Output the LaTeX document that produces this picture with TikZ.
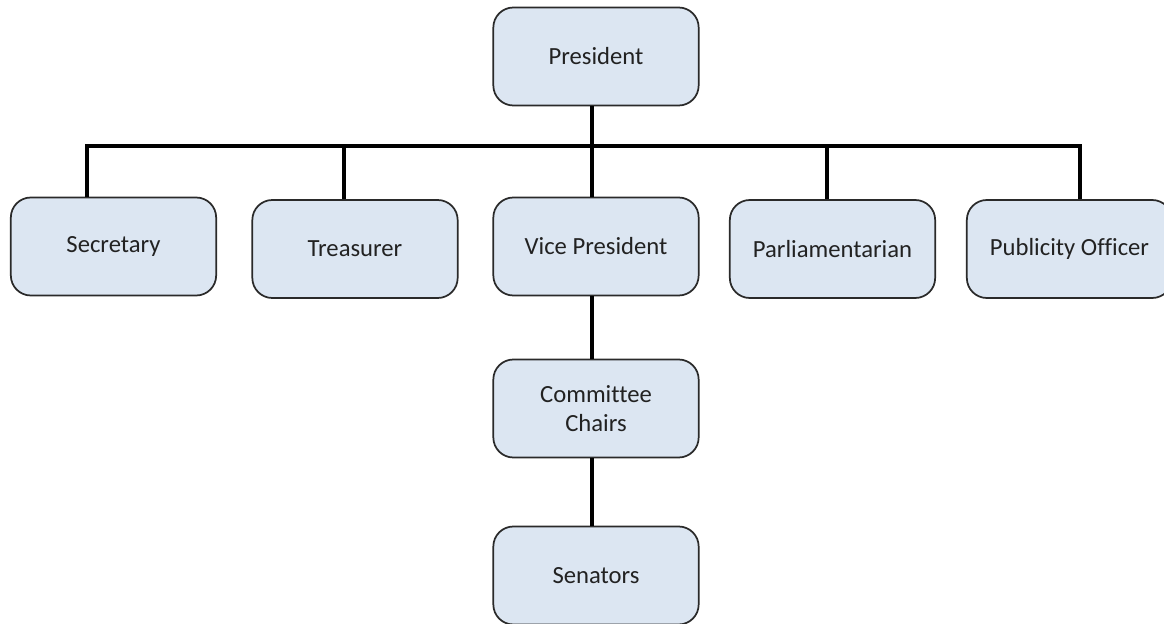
\documentclass[tikz,border=0pt]{standalone}
\usepackage{fontspec}
\setmainfont{Carlito}[Ligatures=CommonOff]
\definecolor{boxfill}{HTML}{DCE6F2}
\definecolor{boxline}{HTML}{2A2A2A}
\definecolor{txt}{HTML}{222222}
\begin{document}
\begin{tikzpicture}[x=0.75pt,y=-0.75pt,
  orgbox/.style={draw=boxline,fill=boxfill,line width=1.3pt,rounded corners=15pt,
    minimum width=154pt,minimum height=73.5pt,align=center,text=txt,
    font=\fontsize{18.5}{22}\selectfont,inner sep=2pt},
  conn/.style={draw=black,line width=2.4pt}]
\useasboundingbox (0,0) rectangle (1164,624);
\begin{scope}
\clip (0,0) rectangle (1164,624);
\node[orgbox] (pres) at (596,56.5) {President};
\node[orgbox] (sec) at (113.5,246.5) {Secretary};
\node[orgbox] (tre) at (355,249) {Treasurer};
\node[orgbox] (vp) at (596,246.5) {Vice President};
\node[orgbox] (par) at (832.5,249) {Parliamentarian};
\node[orgbox] (pub) at (1069.5,249) {Publicity Officer};
\node[orgbox] (cc) at (596,408.5) {Committee\\Chairs};
\node[orgbox] (sen) at (596,575.5) {Senators};
\coordinate (busL) at (87,146);
\coordinate (busR) at (1080,146);
\coordinate (busM) at (592,146);
\coordinate (dT) at (344,146);
\coordinate (dP) at (827,146);
\draw[conn] (busL |- sec.north) -- (busL) -- (busR) -- (busR |- pub.north);
\draw[conn] (busM |- pres.south) -- (busM |- vp.north);
\draw[conn] (dT) -- (dT |- tre.north);
\draw[conn] (dP) -- (dP |- par.north);
\draw[conn] (busM |- vp.south) -- (busM |- cc.north);
\draw[conn] (busM |- cc.south) -- (busM |- sen.north);
\end{scope}
\end{tikzpicture}
\end{document}
